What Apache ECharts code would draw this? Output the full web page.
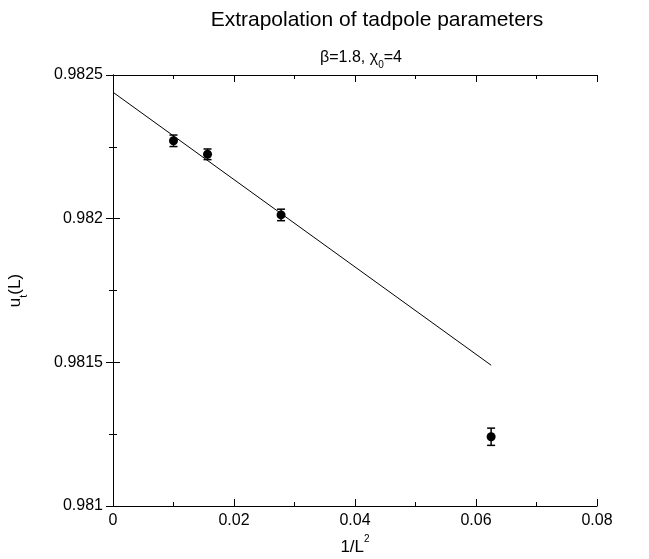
<!DOCTYPE html>
<html><head><meta charset="utf-8">
<script src="https://cdn.jsdelivr.net/npm/echarts@6/dist/echarts.min.js"></script>
<style>html,body{margin:0;padding:0;background:#fff}#c{width:649px;height:559px}</style>
</head><body><div id="c"></div>
<script>
// Data
const invL2 = [0.01, 0.015625, 0.027778, 0.0625];          // 1/L^2
const ut = [0.982271, 0.982224, 0.982013, 0.981241];        // u_t(L)
const utErr = [0.00002, 0.0000185, 0.00002, 0.00003];       // error bars
const fitX = [0, 0.0625];                                   // fit line endpoints
const fitY = [0.98244, 0.98149];
const xTickLabels = ['0', '0.02', '0.04', '0.06', '0.08'];
const yTickLabels = ['0.981', '0.9815', '0.982', '0.9825'];
const xMin = 0, xMax = 0.08, xStep = 0.02;
const yMin = 0.981, yMax = 0.9825, yStep = 0.0005;

const FONT = '"Liberation Sans", Arial, Helvetica, sans-serif';
function xLab(v){ const i = Math.round((v - xMin) / xStep); return xTickLabels[i] ?? ''; }
function yLab(v){ const i = Math.round((v - yMin) / yStep); return yTickLabels[i] ?? ''; }

const tickCommon = {
  axisLine: {show: true, lineStyle: {color: '#000', width: 1}},
  axisTick: {show: true, inside: true, length: 7, lineStyle: {color: '#000', width: 1}},
  minorTick: {show: true, splitNumber: 2, length: 4, lineStyle: {color: '#000', width: 1}},
  splitLine: {show: false},
  minorSplitLine: {show: false}
};

const chart = echarts.init(document.getElementById('c'), null, {renderer: 'canvas'});
chart.setOption({
  animation: false,
  backgroundColor: '#fff',
  title: [
    {text: 'Extrapolation of tadpole parameters', left: 372, top: 5, textAlign: 'center',
     textStyle: {fontFamily: FONT, fontSize: 21, fontWeight: 'normal', color: '#000'}},
    {text: '{n|β=1.8, χ}{s|0}{n|=4}', left: 356, top: 45, textAlign: 'center',
     textStyle: {fontFamily: FONT, color: '#000', fontWeight: 'normal', rich: {
       n: {fontFamily: FONT, fontSize: 16, fontWeight: 'normal', color: '#000', lineHeight: 20, verticalAlign: 'top'},
       s: {fontFamily: FONT, fontSize: 10, fontWeight: 'normal', color: '#000', lineHeight: 10, verticalAlign: 'bottom'}
     }}}
  ],
  grid: {left: 113, right: 52, top: 75, bottom: 53, containLabel: false, outerBoundsMode: 'none'},
  xAxis: [
    Object.assign({type: 'value', position: 'bottom', min: xMin, max: xMax, interval: xStep,
      name: '{n|1/L}{p|2}', nameLocation: 'middle', nameGap: 28,
      nameTextStyle: {rich: {
        n: {fontFamily: FONT, fontSize: 17, color: '#000', lineHeight: 22, verticalAlign: 'bottom'},
        p: {fontFamily: FONT, fontSize: 10, color: '#000', lineHeight: 10, verticalAlign: 'top'}
      }},
      axisLabel: {formatter: xLab, fontFamily: FONT, fontSize: 16, color: '#000', margin: 7}
    }, tickCommon),
    Object.assign({type: 'value', position: 'top', min: xMin, max: xMax, interval: xStep,
      axisLabel: {show: false}}, tickCommon)
  ],
  yAxis: [
    Object.assign({type: 'value', position: 'left', min: yMin, max: yMax, interval: yStep,
      name: '{n|u}{s|t}{n|(L)}', nameLocation: 'middle', nameGap: 84, nameRotate: 90,
      nameTextStyle: {rich: {
        n: {fontFamily: FONT, fontSize: 17, color: '#000', lineHeight: 22, verticalAlign: 'top'},
        s: {fontFamily: FONT, fontSize: 11, color: '#000', lineHeight: 11, verticalAlign: 'bottom'}
      }},
      axisLabel: {formatter: yLab, fontFamily: FONT, fontSize: 16, color: '#000', margin: 10}
    }, tickCommon),
    Object.assign({type: 'value', position: 'right', min: yMin, max: yMax, interval: yStep,
      axisLabel: {show: false}}, tickCommon)
  ],
  series: [
    {type: 'line', data: fitX.map((x, i) => [x, fitY[i]]), symbol: 'none',
     lineStyle: {color: '#000', width: 1}, silent: true},
    {type: 'custom', data: invL2.map((x, i) => [x, ut[i], utErr[i]]),
     encode: {x: 0, y: 1},
     renderItem: function(params, api){
       const x = api.value(0), y = api.value(1), e = api.value(2);
       const t = api.coord([x, y + e]), b = api.coord([x, y - e]);
       const w = 4, st = {stroke: '#000', lineWidth: 1.5};
       return {type: 'group', children: [
         {type: 'line', shape: {x1: t[0], y1: t[1], x2: b[0], y2: b[1]}, style: st},
         {type: 'line', shape: {x1: t[0] - w, y1: t[1], x2: t[0] + w, y2: t[1]}, style: st},
         {type: 'line', shape: {x1: b[0] - w, y1: b[1], x2: b[0] + w, y2: b[1]}, style: st}
       ]};
     }},
    {type: 'scatter', data: invL2.map((x, i) => [x, ut[i]]), symbol: 'circle', symbolSize: 9,
     itemStyle: {color: '#000', opacity: 1}}
  ]
});
</script></body></html>
